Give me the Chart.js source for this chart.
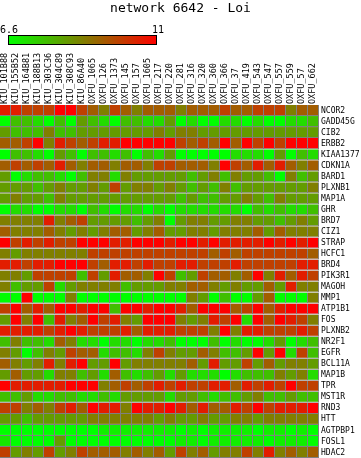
<!DOCTYPE html>
<html>
<head>
<meta charset="utf-8">
<script src="https://cdn.jsdelivr.net/npm/chart.js@4/dist/chart.umd.min.js"></script>
<style>
  html, body { margin: 0; padding: 0; background: #fff; }
  canvas { display: block; }
</style>
</head>
<body>
<canvas id="heat" width="361" height="458"></canvas>
<script>
// Amostras (colunas) e genes (linhas) do heatmap.
const samples = [
  "KIU_101B88", "KIU_155B52", "KIU_164B81", "KIU_188B13", "KIU_303C36",
  "KIU_304C89", "KIU_308C93", "KIU_86A40", "OXFU_1065", "OXFU_126",
  "OXFU_1373", "OXFU_145", "OXFU_157", "OXFU_1605", "OXFU_217",
  "OXFU_220", "OXFU_281", "OXFU_316", "OXFU_320", "OXFU_360",
  "OXFU_366", "OXFU_37", "OXFU_419", "OXFU_543", "OXFU_547",
  "OXFU_557", "OXFU_559", "OXFU_57", "OXFU_662",
];
const genes = [
  "NCOR2", "GADD45G", "CIB2", "ERBB2", "KIAA1377", "CDKN1A", "BARD1", "PLXNB1",
  "MAP1A", "GHR", "BRD7", "CIZ1", "STRAP", "HCFC1", "BRD4", "PIK3R1",
  "MAGOH", "MMP1", "ATP1B1", "FOS", "PLXNB2", "NR2F1", "EGFR", "BCL11A",
  "MAP1B", "TPR", "MST1R", "RND3", "HTT", "AGTPBP1", "FOSL1", "HDAC2",
];

// Expressão (uma linha por gene, uma coluna por amostra).
const expr = [
  [10.5,10.5,9.9,9.9,9.9,11.0,11.0,9.9,9.4,8.8,9.9,9.4,8.8,9.4,9.4,9.4,8.8,9.4,9.4,9.4,9.9,9.4,9.4,9.9,9.9,9.9,8.8,9.4,9.4],
  [6.6,7.7,7.7,7.2,6.6,7.7,6.6,8.3,7.7,7.2,6.6,7.7,7.7,7.2,7.2,8.3,6.6,7.2,6.6,6.6,7.2,7.2,6.6,7.2,6.6,6.6,7.2,7.2,7.7],
  [8.3,7.7,7.7,7.7,8.8,7.7,7.7,8.3,8.3,8.3,8.3,8.3,8.3,8.3,8.8,8.3,8.8,8.8,8.3,8.3,8.3,8.3,8.3,8.3,8.3,8.3,8.3,8.3,8.3],
  [9.4,9.4,9.9,11.0,8.8,10.5,9.9,9.4,9.9,10.5,10.5,11.0,11.0,11.0,11.0,11.0,9.9,9.4,9.9,9.4,11.0,9.4,11.0,9.9,11.0,9.9,11.0,11.0,11.0],
  [6.6,7.7,7.7,7.2,6.6,8.3,7.7,6.6,7.7,7.7,7.2,7.7,6.6,7.7,7.2,8.3,6.6,6.6,6.6,6.6,6.6,7.2,7.2,7.2,6.6,8.3,6.6,7.7,7.2],
  [9.4,9.9,9.4,9.9,9.4,10.5,9.4,8.8,9.4,9.4,8.8,9.4,9.4,8.8,9.9,9.9,9.4,9.4,9.4,8.8,11.0,9.9,9.4,10.5,9.4,10.5,9.4,8.8,9.4],
  [8.3,6.6,7.2,7.7,7.7,7.2,6.6,7.7,8.8,8.8,7.2,8.8,8.3,8.3,8.3,8.3,8.3,7.7,8.3,8.8,7.7,8.8,8.3,8.3,7.7,6.6,8.8,7.7,8.3],
  [8.3,8.3,8.3,7.7,8.3,8.8,8.3,8.3,8.8,8.3,9.9,8.3,8.8,8.8,8.3,8.8,8.3,7.7,8.3,7.7,8.8,7.7,8.3,8.3,8.3,8.3,8.3,8.3,8.8],
  [8.3,8.8,8.3,8.3,7.7,8.8,8.3,8.3,8.3,8.3,8.3,8.3,8.3,8.3,8.3,8.3,7.7,8.3,7.7,7.7,8.3,8.3,8.8,8.3,7.7,8.8,8.3,8.3,8.3],
  [6.6,7.2,7.2,6.6,6.6,7.2,7.2,6.6,7.7,7.2,6.6,7.2,7.2,6.6,7.2,6.6,7.2,7.2,7.2,7.2,7.2,7.2,6.6,7.7,7.2,7.7,7.2,7.2,7.7],
  [8.8,8.8,8.8,8.8,10.5,8.8,9.4,9.9,8.3,8.3,8.3,8.3,7.7,8.3,8.8,6.6,8.3,8.8,8.8,8.3,8.3,8.8,8.8,8.3,8.3,7.7,8.3,8.8,8.3],
  [9.4,8.8,8.8,8.8,9.4,8.8,8.3,8.8,8.3,8.8,9.4,9.4,8.3,8.8,9.4,8.3,8.3,8.8,8.8,8.3,8.8,8.8,8.8,9.4,8.3,9.4,8.8,8.8,8.8],
  [11.0,9.9,10.5,9.9,10.5,9.9,9.9,11.0,11.0,11.0,10.5,10.5,11.0,11.0,11.0,10.5,11.0,11.0,10.5,11.0,10.5,10.5,10.5,10.5,11.0,10.5,11.0,10.5,11.0],
  [8.8,8.3,8.8,8.8,8.8,8.8,8.8,8.8,9.9,9.9,9.9,9.9,9.9,9.9,9.9,9.9,9.9,9.9,9.9,9.4,9.9,9.4,9.9,9.9,9.9,9.9,9.9,9.9,9.4],
  [10.5,10.5,9.9,10.5,10.5,11.0,11.0,11.0,9.9,9.4,10.5,10.5,9.9,10.5,9.9,9.9,10.5,10.5,9.9,9.9,9.9,10.5,9.9,9.9,9.9,9.9,9.9,10.5,10.5],
  [8.8,8.8,8.3,9.9,9.9,9.9,9.9,7.7,9.9,8.3,10.5,9.4,9.4,8.8,11.0,9.9,7.7,8.3,9.9,9.4,9.4,8.8,9.4,11.0,8.8,10.5,9.4,10.5,9.9],
  [8.8,7.7,8.3,8.3,9.9,7.2,8.3,8.8,8.8,8.8,8.8,7.7,8.3,8.3,8.3,8.8,8.8,9.4,9.4,8.8,8.3,8.8,8.3,8.3,9.4,8.3,10.5,8.8,8.8],
  [6.6,6.6,11.0,6.6,6.6,6.6,8.8,6.6,6.6,6.6,6.6,6.6,6.6,6.6,6.6,6.6,6.6,8.8,8.3,6.6,7.7,6.6,6.6,8.3,9.4,6.6,6.6,6.6,8.8],
  [9.9,11.0,9.4,10.5,9.4,11.0,11.0,10.5,11.0,11.0,7.7,11.0,11.0,10.5,11.0,11.0,10.5,9.4,11.0,11.0,11.0,9.4,9.9,11.0,9.4,10.5,11.0,11.0,11.0],
  [8.3,11.0,8.8,11.0,7.7,10.5,8.8,9.4,11.0,9.9,10.5,8.8,8.3,11.0,11.0,11.0,8.8,8.3,8.8,10.5,9.9,11.0,7.2,11.0,9.4,11.0,10.5,9.9,8.8],
  [10.5,10.5,10.5,10.5,9.9,10.5,11.0,10.5,9.9,9.9,9.9,10.5,9.4,10.5,10.5,10.5,9.9,9.9,9.9,8.8,11.0,8.8,10.5,10.5,9.9,9.9,9.9,10.5,9.9],
  [7.7,8.8,7.7,7.7,7.2,9.4,8.8,7.2,7.2,6.6,7.2,7.2,6.6,7.2,7.2,7.7,6.6,6.6,6.6,7.7,6.6,7.2,6.6,6.6,7.2,8.3,6.6,7.2,7.7],
  [8.8,8.3,6.6,7.7,8.8,8.3,9.9,9.4,9.4,7.2,7.7,7.7,7.2,8.8,9.9,8.8,8.3,8.3,9.4,8.8,7.7,7.7,8.3,11.0,8.3,11.0,7.2,9.9,7.7],
  [9.4,8.8,8.3,8.8,10.5,8.8,10.5,11.0,8.3,8.3,11.0,8.3,8.8,8.8,8.8,8.8,8.8,9.4,8.3,10.5,8.3,8.3,9.9,8.3,9.4,8.3,8.8,8.8,8.3],
  [8.3,9.4,8.3,8.3,7.2,8.8,8.8,7.7,8.3,7.2,9.4,7.7,7.2,7.7,8.3,7.2,8.3,7.2,7.2,7.2,6.6,7.2,7.7,7.7,7.7,8.8,8.3,8.8,7.2],
  [11.0,10.5,10.5,10.5,10.5,10.5,11.0,11.0,11.0,8.8,9.4,9.9,9.4,9.9,10.5,9.9,10.5,9.9,9.9,10.5,10.5,9.4,10.5,9.9,10.5,9.9,11.0,9.9,9.9],
  [7.7,7.7,8.3,7.2,7.2,7.7,7.7,7.2,7.2,7.7,7.2,8.3,8.3,8.3,8.3,7.2,8.3,8.3,7.7,7.2,7.7,7.7,8.3,8.8,7.7,7.7,8.3,7.7,7.7],
  [9.9,9.9,8.8,9.4,8.8,9.9,10.5,9.4,11.0,10.5,10.5,8.8,11.0,10.5,10.5,11.0,10.5,9.4,10.5,9.4,9.4,10.5,9.9,11.0,9.9,10.5,10.5,10.5,11.0],
  [8.3,8.3,7.7,8.3,8.3,8.3,8.3,8.3,8.8,8.8,8.8,8.8,8.8,8.8,8.3,8.8,8.3,8.3,8.8,8.3,8.3,8.8,8.8,8.3,8.8,8.8,8.8,8.8,8.8],
  [6.6,6.6,6.6,6.6,6.6,6.6,6.6,6.6,6.6,6.9,6.9,6.9,6.9,6.9,6.9,6.9,6.6,6.9,6.6,6.9,6.9,6.9,6.9,6.6,6.9,6.9,6.6,6.9,6.6],
  [7.0,6.6,6.6,6.6,6.6,8.3,6.6,6.6,6.6,6.6,6.6,6.6,6.6,6.6,6.6,6.6,6.9,6.9,6.6,6.9,6.9,6.9,6.9,6.9,6.6,6.9,6.9,6.9,6.6],
  [9.9,8.3,8.8,8.3,9.9,8.3,8.8,9.9,9.4,9.4,9.4,8.8,9.4,8.8,9.4,8.3,9.9,8.8,9.4,8.3,8.8,8.8,9.9,8.8,10.5,8.8,9.4,8.8,9.4],
];

// Escala de cor: verde (mínimo) -> vermelho (máximo).
const scaleMin = 6.6;
const scaleMax = 11;
const scaleLabels = ["6.6", "11"];

const FONT = "'DejaVu Sans Mono', monospace";
const GRID_GRAY = "#808080";

Chart.defaults.font.family = FONT;
Chart.defaults.color = "#000";

function heatColor(v) {
  const t = Math.min(1, Math.max(0, (v - scaleMin) / (scaleMax - scaleMin)));
  const r = Math.round(255 * t);
  const g = Math.round(255 * (1 - t));
  return `rgb(${r},${g},0)`;
}

// Sem folga extra das labels: a grade encosta na borda esquerda.
function noPad(s) {
  s.paddingLeft = 0;
  s.paddingRight = 0;
  s.paddingTop = 0;
  s.paddingBottom = 0;
}

// Barra de legenda (gradiente) acima dos nomes das amostras.
const colorBar = {
  id: "colorBar",
  afterDraw(chart) {
    const ctx = chart.ctx;
    const x0 = 8, y0 = 35, w = 149, h = 10;
    ctx.save();
    const grad = ctx.createLinearGradient(x0, 0, x0 + w, 0);
    grad.addColorStop(0, heatColor(scaleMin));
    grad.addColorStop(1, heatColor(scaleMax));
    ctx.fillStyle = grad;
    ctx.fillRect(x0, y0, w, h);
    ctx.strokeStyle = "#000";
    ctx.lineWidth = 1;
    ctx.strokeRect(x0 + 0.5, y0 + 0.5, w - 1, h - 1);
    ctx.fillStyle = "#000";
    ctx.font = `10px ${FONT}`;
    ctx.textBaseline = "alphabetic";
    ctx.textAlign = "left";
    ctx.fillText(scaleLabels[0], 0, 33);
    ctx.fillText(scaleLabels[1], 152, 33);
    ctx.restore();
  },
};

// Cada gene é um dataset empilhado; cada célula tem altura 1.
const datasets = genes.map((gene, i) => ({
  label: gene,
  data: samples.map(() => 1),
  backgroundColor: expr[i].map(heatColor),
  borderColor: GRID_GRAY,
  borderWidth: { top: 0, left: 0, right: 1, bottom: 1 },
  borderSkipped: false,
  inflateAmount: 0,
  barPercentage: 1,
  categoryPercentage: 1,
  yAxisID: "y",
}));

new Chart(document.getElementById("heat"), {
  type: "bar",
  data: { labels: samples, datasets },
  options: {
    responsive: false,
    animation: false,
    events: [],
    layout: { padding: 0 },
    scales: {
      x: {
        position: "top",
        stacked: true,
        grid: { display: false, drawTicks: false },
        border: { display: false },
        ticks: {
          autoSkip: false,
          minRotation: 90,
          maxRotation: 90,
          padding: 1,
          labelOffset: 9,
          color: "#000",
          font: { size: 8.5 },
        },
        afterFit: (s) => { s.height = 89; noPad(s); },
      },
      y: {
        display: false,
        stacked: true,
        reverse: true,
        min: 0,
        max: genes.length,
      },
      y2: {
        type: "category",
        labels: genes,
        position: "right",
        offset: true,
        grid: { display: false, drawTicks: false },
        border: { display: false },
        ticks: { autoSkip: false, padding: 2, color: "#000", font: { size: 8 } },
        afterFit: (s) => { s.width = 42; noPad(s); },
      },
    },
    plugins: {
      legend: { display: false },
      tooltip: { enabled: false },
      title: {
        display: true,
        text: "network 6642 - Loi",
        color: "#000",
        font: { size: 13, weight: "normal", lineHeight: "14px" },
        padding: { top: 2, bottom: 0 },
      },
    },
  },
  plugins: [colorBar],
});
</script>
</body>
</html>
